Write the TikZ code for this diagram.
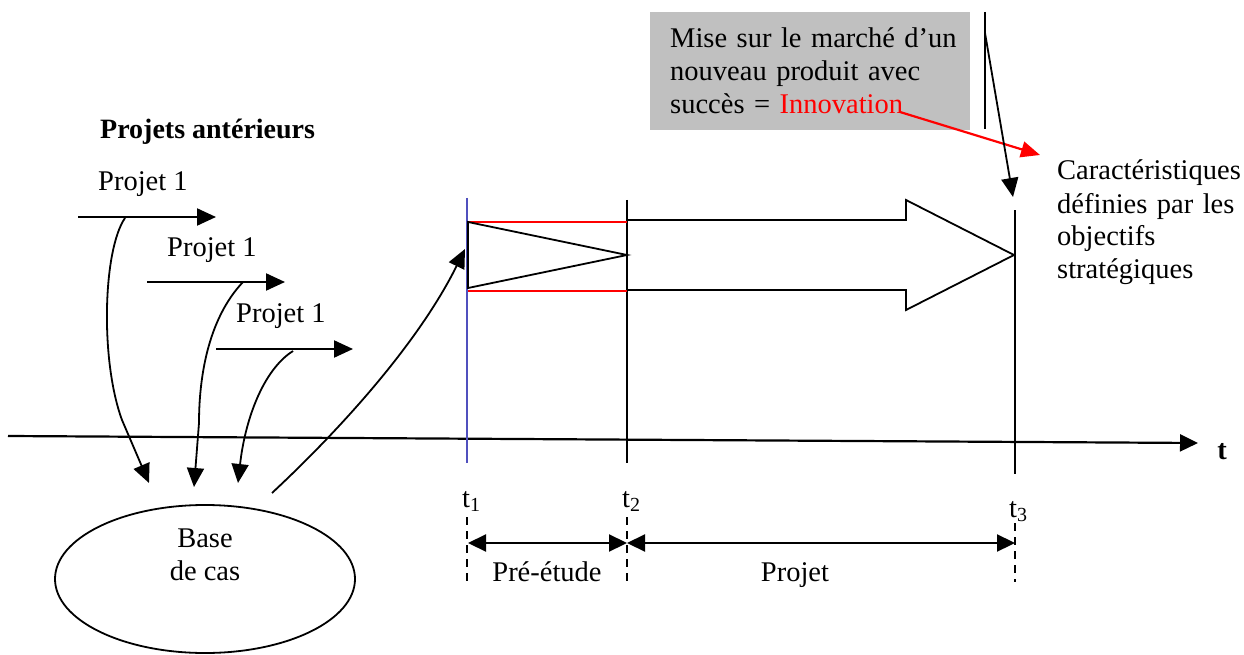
\documentclass[tikz,border=0pt]{standalone}
\usepackage{fontspec}
\setmainfont{Liberation Serif}
\usetikzlibrary{arrows.meta,shapes.geometric}
\definecolor{boxgray}{RGB}{192,192,192}
\definecolor{tblue}{RGB}{80,80,190}
\begin{document}
\begin{tikzpicture}[x=1pt,y=-1pt,
  txt/.style={inner sep=0pt, anchor=base west, font=\fontsize{28.5}{33}\selectfont},
  ctxt/.style={inner sep=0pt, anchor=base, font=\fontsize{28.5}{33}\selectfont},
  tip/.style={-{Triangle[length=19pt,width=17pt]}},
  projarr/.style={line width=2.2pt, tip},
  curvearr/.style={line width=1.8pt, tip},
  thin/.style={line width=1.8pt},
  dashv/.style={line width=1.6pt, dash pattern=on 8pt off 6pt},
  dimarr/.style={line width=2.2pt, {Triangle[length=18pt,width=17pt]}-{Triangle[length=18pt,width=17pt]}}
]
\useasboundingbox (0,0) rectangle (1244,655);

% gray box
\node[fill=boxgray, inner sep=0pt, minimum width=320pt, minimum height=118pt, anchor=north west] (box) at (650,12) {};
\node[txt, text width=290pt, align=left] (boxtext) at (670,48)
  {Mise sur le marché d’un\\nouveau produit avec\\succès = \textcolor{red}{Innovation}};
\coordinate (innovEnd) at (900,112);

% right text
\node[txt, text width=190pt, align=left] (carac) at (1057,180)
  {Caractéristiques\\définies par les\\objectifs\\stratégiques};
\coordinate (caracTip) at (1040,155);
\draw[red, line width=2.2pt, -{Triangle[length=19pt,width=16pt]}] (innovEnd) -- (caracTip);

% vertical line near box and arrow to t3
\coordinate (vl1) at (985,12);
\coordinate (vl2) at (985,129);
\draw[thin] (vl1) -- (vl2);
\coordinate (vlA) at (985,33);
\coordinate (t3top) at (1013,197);
\draw[curvearr] (vlA) -- (t3top);

% Projets antérieurs
\node[txt, font=\fontsize{28}{30}\selectfont\bfseries] (titre) at (100,139) {Projets antérieurs};

\node[txt] (p1) at (98,191) {Projet 1};
\node[txt] (p2) at (167,256) {Projet 1};
\node[txt] (p3) at (236,322) {Projet 1};
\coordinate (a1s) at (78,217); \coordinate (a1e) at (216,217);
\coordinate (a2s) at (147,282); \coordinate (a2e) at (285,282);
\coordinate (a3s) at (216,349); \coordinate (a3e) at (353,349);
\draw[projarr] (a1s) -- (a1e);
\draw[projarr] (a2s) -- (a2e);
\draw[projarr] (a3s) -- (a3e);

% ellipse
\node[draw, thin, ellipse, minimum width=300pt, minimum height=148pt, inner sep=0pt] (base) at (205,579) {};
\node[ctxt, align=center] (basetxt) at (205,580) {Base\\de cas};

% curved arrows into base
\coordinate (c1s) at (125,218);
\coordinate (c1k) at (122,420);
\coordinate (c1e) at (149,483);
\draw[curvearr] (c1s) .. controls (103,250) and (100,360) .. (c1k) -- (c1e);
\coordinate (c2s) at (243,282);
\coordinate (c2k) at (199,423);
\coordinate (c2e) at (194,487);
\draw[curvearr] (c2s) .. controls (207,320) and (199,380) .. (c2k) -- (c2e);
\coordinate (c3s) at (293,351);
\coordinate (c3e) at (238,483);
\draw[curvearr] (c3s) .. controls (263,370) and (245,420) .. (c3e);
\coordinate (c4s) at (272,493);
\coordinate (c4e) at (465,249);
\draw[curvearr] (c4s) .. controls (345,425) and (420,340) .. (c4e);

% time axis
\coordinate (ax0) at (8,436);
\coordinate (ax1) at (1198,443);
\draw[line width=2.2pt, -{Triangle[length=18pt,width=17pt]}] (ax0) -- (ax1);
\node[ctxt, font=\fontsize{28.5}{32}\selectfont\bfseries] (tlab) at (1222,459) {t};

% vertical time lines
\coordinate (t1a) at (467,198); \coordinate (t1b) at (467,463);
\coordinate (t2a) at (627,200); \coordinate (t2b) at (627,463);
\coordinate (t3a) at (1015,210); \coordinate (t3b) at (1015,474);
\draw[tblue, line width=1.5pt] (t1a) -- (t1b);
\draw[thin] (t2a) -- (t2b);
\draw[thin] (t3a) -- (t3b);

% red lines and triangle (pre-study)
\draw[red, line width=1.6pt] (468,222) -- (627,222);
\draw[red, line width=1.6pt] (468,291) -- (627,291);
\coordinate (trA) at (468,222);
\coordinate (trB) at (627,255);
\coordinate (trC) at (468,288);
\draw[thin, line join=miter] (trA) -- (trB) -- (trC) -- cycle;

% big arrow
\draw[thin, line join=miter] (627,220) -- (906,220) -- (906,200) -- (1014,255) -- (906,310) -- (906,290) -- (627,290);

% labels t1 t2 t3
\node[txt] (lt1) at (462,507) {t\textsubscript{1}};
\node[txt] (lt2) at (622,507) {t\textsubscript{2}};
\node[txt] (lt3) at (1009,517) {t\textsubscript{3}};

% dashed lines
\draw[dashv] (467,517) -- (467,582);
\draw[dashv] (627,517) -- (627,582);
\draw[dashv] (1015,523) -- (1015,582);

% dimension arrows
\coordinate (d1) at (468,543);
\coordinate (d2) at (627,543);
\coordinate (d3) at (1015,543);
\draw[dimarr] (d1) -- (d2);
\draw[dimarr] (d2) -- (d3);
\node[ctxt] (pre) at (547,581) {Pré-étude};
\node[ctxt] (proj) at (795,581) {Projet};
\end{tikzpicture}
\end{document}
